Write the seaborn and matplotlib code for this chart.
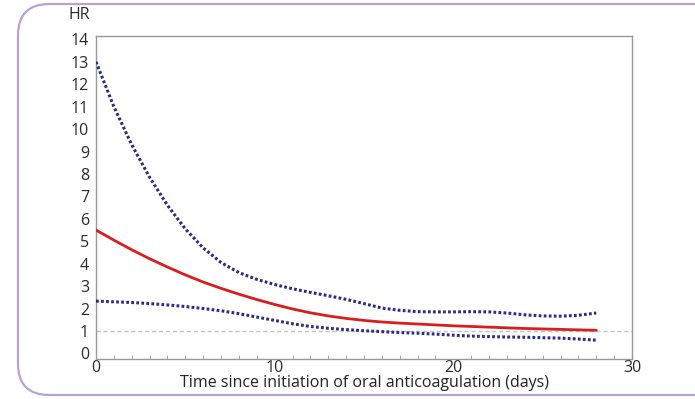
import numpy as np
import pandas as pd
import matplotlib
matplotlib.use("Agg")
import matplotlib.pyplot as plt
from matplotlib.patches import FancyBboxPatch
from matplotlib.ticker import MultipleLocator
import seaborn as sns

# --- data ---
days = list(range(0, 29))
hr = [5.5, 5.05, 4.62, 4.22, 3.85, 3.5, 3.18, 2.9, 2.64, 2.4, 2.18, 1.98, 1.81, 1.67,
      1.56, 1.47, 1.40, 1.35, 1.31, 1.27, 1.23, 1.2, 1.17, 1.14, 1.11, 1.09, 1.07,
      1.05, 1.03]
upper_ci = [13.0, 11.0, 9.3, 7.85, 6.6, 5.55, 4.7, 4.05, 3.6, 3.3, 3.07, 2.88, 2.72,
            2.57, 2.41, 2.22, 2.02, 1.92, 1.86, 1.85, 1.85, 1.86, 1.85, 1.8, 1.72, 1.67,
            1.66, 1.7, 1.8]
lower_ci = [2.33, 2.3, 2.27, 2.22, 2.16, 2.09, 2.0, 1.9, 1.77, 1.62, 1.47, 1.32, 1.2,
            1.12, 1.06, 1.01, 0.97, 0.93, 0.9, 0.86, 0.81, 0.77, 0.75, 0.73, 0.72, 0.7,
            0.68, 0.64, 0.59]
x_ticks = [0, 10, 20, 30]
y_ticks = list(range(0, 15))
ref_line = [0, 30]

df = pd.DataFrame({"day": days, "hr": hr, "upper": upper_ci, "lower": lower_ci})

sns.set_style("white")
plt.rcParams["font.family"] = ["Open Sans", "DejaVu Sans"]

fig = plt.figure(figsize=(6.95, 3.99), dpi=100)
ax = fig.add_axes([96 / 695, 1 - 359 / 399, (632 - 96) / 695, (359 - 36) / 399])

# reference line at HR = 1
ax.plot(ref_line, [1, 1], color="#c4c4c4", lw=1, ls=(0, (3, 2)), zorder=1)

dot_col = "#2a2a8c"
for col in ["upper", "lower"]:
    sns.lineplot(data=df, x="day", y=col, ax=ax, color=dot_col, lw=2.2,
                 linestyle=(0, (0.9, 0.75)), zorder=3)
sns.lineplot(data=df, x="day", y="hr", ax=ax, color="#d91e1e", lw=2, zorder=4)

ax.set_xlim(0, 30)
ax.set_ylim(-0.25, 14.15)
ax.set_xticks(x_ticks)
ax.set_yticks(y_ticks)
ax.xaxis.set_minor_locator(MultipleLocator(1))
ax.tick_params(axis="both", which="major", direction="in", length=4, width=0.8,
               color="#999999", labelsize=11.5, labelcolor="#2a2a2a", pad=1)
ax.tick_params(axis="x", which="minor", direction="in", length=3, width=0.6,
               color="#999999", bottom=True)
ax.tick_params(axis="y", pad=5)
for s in ax.spines.values():
    s.set_color("#999999")
    s.set_linewidth(1)

ax.set_xlabel("Time since initiation of oral anticoagulation (days)", fontsize=11.5,
              color="#222222", labelpad=-1)
ax.set_ylabel("")
ax.text(-0.032, 1.04, "HR", transform=ax.transAxes, fontsize=11.5, color="#2a2a2a",
        ha="center", va="bottom")

# rounded publication frame
frame = FancyBboxPatch((18 / 695, 4 / 399), 720 / 695, 391 / 399,
                       boxstyle="round,pad=0,rounding_size=0.045",
                       transform=fig.transFigure, fill=False,
                       edgecolor="#b7a2d8", lw=1.6, clip_on=False,
                       mutation_aspect=695 / 399)
fig.patches.append(frame)

fig.savefig("out.png", dpi=100)
